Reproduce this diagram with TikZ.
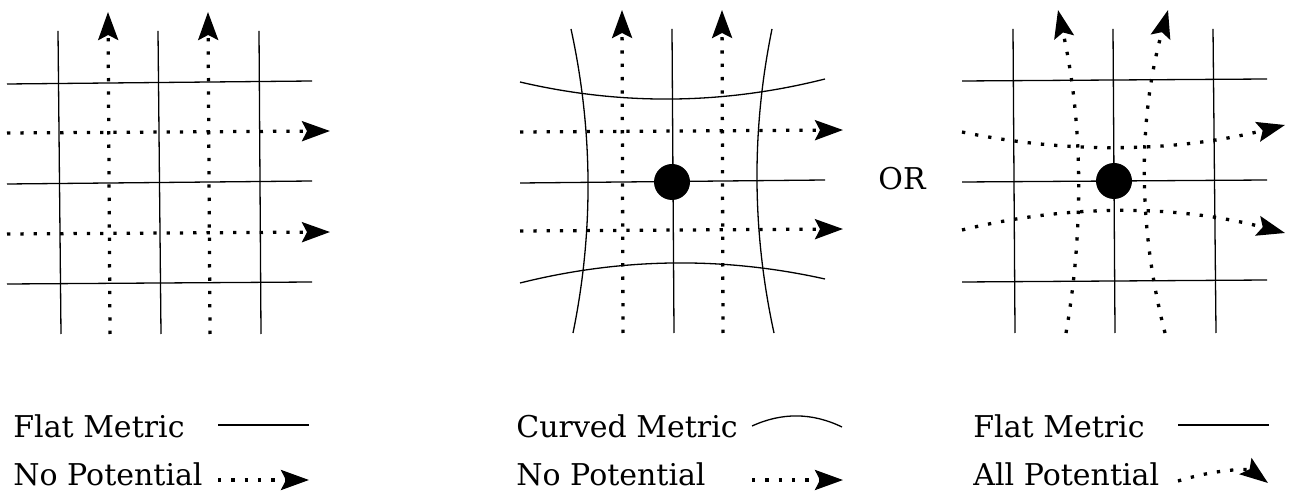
\documentclass[tikz,border=0pt]{standalone}
\usepackage{fontspec}
\setmainfont{DejaVu Serif}
\usetikzlibrary{arrows.meta, positioning}
\tikzset{
  metric/.style    = {line width=0.65pt, draw=black},
  potential/.style = {line width=1.65pt, draw=black, dash pattern=on 1.65pt off 5pt,
                      -{Stealth[length=14pt,width=10pt,inset=2.5pt]}},
  mass/.style      = {circle, fill=black, minimum size=18pt, inner sep=0pt},
  legtext/.style   = {anchor=base west, inner sep=0pt, font=\fontsize{15}{17}\selectfont},
}

\begin{document}
\begin{tikzpicture}[x=0.5pt, y=-0.5pt]
  \useasboundingbox (0,0) rectangle (1294,491);

  % Flat metric, no potential
  \draw[metric] (58,31) -- (61,334);
  \draw[metric] (158,31) -- (161,334);
  \draw[metric] (259,31) -- (261,334);
  \draw[metric] (7,84) -- (312,81);
  \draw[metric] (7,184) -- (312,181);
  \draw[metric] (7,284) -- (312,282);
  \coordinate (a1s) at (110,334); \coordinate (a1e) at (108,12);
  \coordinate (a2s) at (210,334); \coordinate (a2e) at (208,12);
  \coordinate (a3s) at (7,133);   \coordinate (a3e) at (330,131);
  \coordinate (a4s) at (7,234);   \coordinate (a4e) at (330,232);
  \draw[potential] (a1s) -- (a1e);
  \draw[potential] (a2s) -- (a2e);
  \draw[potential] (a3s) -- (a3e);
  \draw[potential] (a4s) -- (a4e);

  % Curved metric, no potential
  \draw[metric] (571,29) .. controls (593,130.3) and (593.7,231.7) .. (573,333);
  \draw[metric] (772,29) .. controls (751.3,130.3) and (752,231.7) .. (774,333);
  \draw[metric] (520,82) .. controls (621.3,105.7) and (723,104.7) .. (825,79);
  \draw[metric] (520,283) .. controls (621.3,257.7) and (723,256.3) .. (825,279);
  \draw[metric] (520,183) -- (825,180);
  \draw[metric] (672,29) -- (674,333);
  \node[mass] (m1) at (672,182) {};
  \coordinate (b1s) at (623,333); \coordinate (b1e) at (622,10);
  \coordinate (b2s) at (723,333); \coordinate (b2e) at (722,10);
  \coordinate (b3s) at (520,132); \coordinate (b3e) at (843,130);
  \coordinate (b4s) at (520,231); \coordinate (b4e) at (843,229);
  \draw[potential] (b1s) -- (b1e);
  \draw[potential] (b2s) -- (b2e);
  \draw[potential] (b3s) -- (b3e);
  \draw[potential] (b4s) -- (b4e);

  \node[font=\fontsize{15}{17}\selectfont, inner sep=0pt] (or) at (902,179) {OR};

  % Flat metric, all potential
  \draw[metric] (1013,29) -- (1015,333);
  \draw[metric] (1113,29) -- (1115,333);
  \draw[metric] (1213,29) -- (1216,333);
  \draw[metric] (962,81) -- (1267,79);
  \draw[metric] (962,182) -- (1267,180);
  \draw[metric] (962,282) -- (1267,280);
  \node[mass] (m2) at (1114,181) {};
  \coordinate (c1s) at (1066,333); \coordinate (c1e) at (1058,10);
  \coordinate (c2s) at (1165,333); \coordinate (c2e) at (1168,10);
  \coordinate (c3s) at (962,132);  \coordinate (c3e) at (1285,125);
  \coordinate (c4s) at (962,230);  \coordinate (c4e) at (1285,233);
  \draw[potential] (c1s) .. controls (1084.7,225) and (1082,117.3) .. (c1e);
  \draw[potential] (c2s) .. controls (1137.3,225) and (1138.3,117.3) .. (c2e);
  \draw[potential] (c3s) .. controls (1069.3,154.3) and (1177,152) .. (c3e);
  \draw[potential] (c4s) .. controls (1069.3,203.7) and (1177,204.7) .. (c4e);

  % Legends
  \node[legtext] (l1a) at (13,437) {Flat Metric};
  \node[legtext] (l1b) at (13,485) {No Potential};
  \coordinate (k1s) at (218,425); \coordinate (k1e) at (309,425);
  \coordinate (k2s) at (218,480); \coordinate (k2e) at (309,480);
  \draw[metric] (k1s) -- (k1e);
  \draw[potential] (k2s) -- (k2e);

  \node[legtext] (l2a) at (516,437) {Curved Metric};
  \node[legtext] (l2b) at (516,485) {No Potential};
  \coordinate (k3s) at (752,426); \coordinate (k3e) at (842,427);
  \coordinate (k4s) at (752,480); \coordinate (k4e) at (843,480);
  \draw[metric] (k3s) .. controls (782,412.3) and (812,412.5) .. (k3e);
  \draw[potential] (k4s) -- (k4e);

  \node[legtext] (l3a) at (973,437) {Flat Metric};
  \node[legtext] (l3b) at (973,485) {All Potential};
  \coordinate (k5s) at (1178,425); \coordinate (k5e) at (1269,425);
  \coordinate (k6s) at (1178,481); \coordinate (k6e) at (1268,483);
  \draw[metric] (k5s) -- (k5e);
  \draw[potential] (k6s) .. controls (1219.3,468.3) and (1249.3,469) .. (k6e);
\end{tikzpicture}
\end{document}
